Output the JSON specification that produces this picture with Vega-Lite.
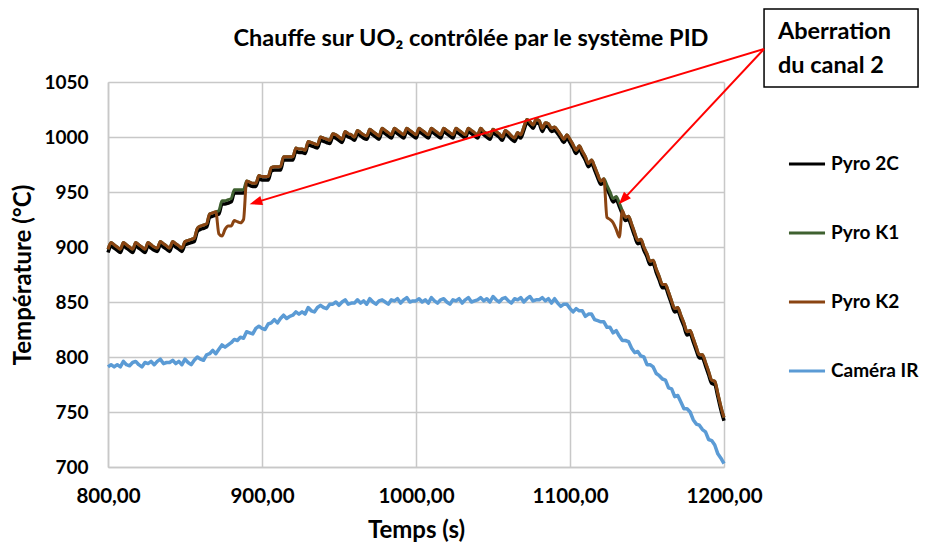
{
"$schema": "https://vega.github.io/schema/vega-lite/v6.json",
"width": 616, "height": 385,
"autosize": {"type": "none"},
"padding": {"left": 108, "top": 82, "right": 201, "bottom": 80},
"background": "white",
"config": {
  "font": "Lato",
  "view": {"stroke": null},
  "axis": {"grid": true, "gridColor": "#c8c8c8", "gridWidth": 1.5, "domainColor": "#c8c8c8", "domainWidth": 1.5, "ticks": false, "labelFontSize": 19, "labelFontWeight": "bold", "labelColor": "#000000", "titleFontSize": 24, "titleFontWeight": "bold", "titleColor": "#000000", "labelFont": "Lato", "titleFont": "Lato"}
},
"title": {"text": "Chauffe sur UO₂ contrôlée par le système PID", "fontSize": 23.5, "fontWeight": "bold", "color": "#000000", "anchor": "middle", "frame": "group", "dx": 55, "offset": -42, "font": "Lato"},
"datasets": {
"temps": [
{"t":800,"p2c":895,"k1":898,"k2":898,"ir":791},
{"t":802,"p2c":901,"k1":904,"k2":904,"ir":793},
{"t":804,"p2c":899,"k1":902,"k2":902,"ir":791},
{"t":806,"p2c":897,"k1":900,"k2":900,"ir":793},
{"t":808,"p2c":895,"k1":898,"k2":898,"ir":791},
{"t":810,"p2c":901,"k1":904,"k2":904,"ir":796},
{"t":812,"p2c":899,"k1":902,"k2":902,"ir":793},
{"t":814,"p2c":897,"k1":900,"k2":900,"ir":792},
{"t":816,"p2c":895,"k1":898,"k2":898,"ir":795},
{"t":818,"p2c":901,"k1":904,"k2":904,"ir":796},
{"t":820,"p2c":899,"k1":902,"k2":902,"ir":793},
{"t":822,"p2c":897,"k1":900,"k2":900,"ir":791},
{"t":824,"p2c":895,"k1":898,"k2":898,"ir":795},
{"t":826,"p2c":901,"k1":904,"k2":904,"ir":794},
{"t":828,"p2c":899,"k1":902,"k2":902,"ir":796},
{"t":830,"p2c":897,"k1":900,"k2":900,"ir":793},
{"t":832,"p2c":896,"k1":899,"k2":899,"ir":796},
{"t":834,"p2c":902,"k1":905,"k2":905,"ir":798},
{"t":836,"p2c":900,"k1":903,"k2":903,"ir":794},
{"t":838,"p2c":898,"k1":901,"k2":901,"ir":795},
{"t":840,"p2c":896,"k1":899,"k2":899,"ir":795},
{"t":842,"p2c":902,"k1":905,"k2":905,"ir":797},
{"t":844,"p2c":900,"k1":903,"k2":903,"ir":794},
{"t":846,"p2c":898,"k1":901,"k2":901,"ir":796},
{"t":848,"p2c":896,"k1":899,"k2":899,"ir":793},
{"t":850,"p2c":902,"k1":905,"k2":905,"ir":798},
{"t":852,"p2c":903,"k1":906,"k2":906,"ir":795},
{"t":854,"p2c":904,"k1":907,"k2":907,"ir":793},
{"t":856,"p2c":905,"k1":908,"k2":908,"ir":797},
{"t":858,"p2c":914,"k1":917,"k2":917,"ir":800},
{"t":860,"p2c":916,"k1":919,"k2":919,"ir":798},
{"t":862,"p2c":917,"k1":920,"k2":920,"ir":797},
{"t":864,"p2c":918,"k1":921,"k2":921,"ir":802},
{"t":866,"p2c":927,"k1":930,"k2":930,"ir":803},
{"t":868,"p2c":928,"k1":931,"k2":931,"ir":806},
{"t":870,"p2c":929,"k1":932,"k2":932,"ir":803},
{"t":872,"p2c":930,"k1":933,"k2":912,"ir":807},
{"t":874,"p2c":939,"k1":942,"k2":910,"ir":811},
{"t":876,"p2c":939,"k1":942,"k2":916,"ir":809},
{"t":878,"p2c":940,"k1":943,"k2":919,"ir":811},
{"t":880,"p2c":941,"k1":944,"k2":919,"ir":813},
{"t":882,"p2c":949,"k1":952,"k2":924,"ir":816},
{"t":884,"p2c":949,"k1":952,"k2":923,"ir":815},
{"t":886,"p2c":949,"k1":952,"k2":922,"ir":818},
{"t":888,"p2c":949,"k1":952,"k2":925,"ir":817},
{"t":890,"p2c":957,"k1":960,"k2":960,"ir":823},
{"t":892,"p2c":956,"k1":959,"k2":959,"ir":822},
{"t":894,"p2c":955,"k1":958,"k2":958,"ir":821},
{"t":896,"p2c":955,"k1":958,"k2":958,"ir":826},
{"t":898,"p2c":962,"k1":965,"k2":965,"ir":828},
{"t":900,"p2c":961,"k1":964,"k2":964,"ir":826},
{"t":902,"p2c":961,"k1":964,"k2":964,"ir":825},
{"t":904,"p2c":961,"k1":964,"k2":964,"ir":830},
{"t":906,"p2c":969,"k1":972,"k2":972,"ir":831},
{"t":908,"p2c":970,"k1":973,"k2":973,"ir":834},
{"t":910,"p2c":970,"k1":973,"k2":973,"ir":831},
{"t":912,"p2c":970,"k1":973,"k2":973,"ir":835},
{"t":914,"p2c":979,"k1":982,"k2":982,"ir":838},
{"t":916,"p2c":979,"k1":982,"k2":982,"ir":835},
{"t":918,"p2c":979,"k1":982,"k2":982,"ir":837},
{"t":920,"p2c":979,"k1":982,"k2":982,"ir":838},
{"t":922,"p2c":987,"k1":990,"k2":990,"ir":841},
{"t":924,"p2c":986,"k1":989,"k2":989,"ir":839},
{"t":926,"p2c":986,"k1":989,"k2":989,"ir":841},
{"t":928,"p2c":985,"k1":988,"k2":988,"ir":839},
{"t":930,"p2c":993,"k1":996,"k2":996,"ir":845},
{"t":932,"p2c":992,"k1":995,"k2":995,"ir":842},
{"t":934,"p2c":991,"k1":994,"k2":994,"ir":841},
{"t":936,"p2c":990,"k1":993,"k2":993,"ir":845},
{"t":938,"p2c":997,"k1":1000,"k2":1000,"ir":847},
{"t":940,"p2c":996,"k1":999,"k2":999,"ir":845},
{"t":942,"p2c":995,"k1":998,"k2":998,"ir":844},
{"t":944,"p2c":994,"k1":997,"k2":997,"ir":848},
{"t":946,"p2c":1000,"k1":1003,"k2":1003,"ir":848},
{"t":948,"p2c":999,"k1":1002,"k2":1002,"ir":850},
{"t":950,"p2c":997,"k1":1000,"k2":1000,"ir":847},
{"t":952,"p2c":995,"k1":998,"k2":998,"ir":850},
{"t":954,"p2c":1002,"k1":1005,"k2":1005,"ir":852},
{"t":956,"p2c":1000,"k1":1003,"k2":1003,"ir":848},
{"t":958,"p2c":999,"k1":1002,"k2":1002,"ir":849},
{"t":960,"p2c":997,"k1":1000,"k2":1000,"ir":849},
{"t":962,"p2c":1003,"k1":1006,"k2":1006,"ir":852},
{"t":964,"p2c":1001,"k1":1004,"k2":1004,"ir":849},
{"t":966,"p2c":999,"k1":1002,"k2":1002,"ir":851},
{"t":968,"p2c":998,"k1":1001,"k2":1001,"ir":848},
{"t":970,"p2c":1004,"k1":1007,"k2":1007,"ir":853},
{"t":972,"p2c":1002,"k1":1005,"k2":1005,"ir":850},
{"t":974,"p2c":1000,"k1":1003,"k2":1003,"ir":848},
{"t":976,"p2c":998,"k1":1001,"k2":1001,"ir":851},
{"t":978,"p2c":1005,"k1":1008,"k2":1008,"ir":852},
{"t":980,"p2c":1003,"k1":1006,"k2":1006,"ir":850},
{"t":982,"p2c":1001,"k1":1004,"k2":1004,"ir":848},
{"t":984,"p2c":999,"k1":1002,"k2":1002,"ir":852},
{"t":986,"p2c":1005,"k1":1008,"k2":1008,"ir":851},
{"t":988,"p2c":1003,"k1":1006,"k2":1006,"ir":853},
{"t":990,"p2c":1001,"k1":1004,"k2":1004,"ir":849},
{"t":992,"p2c":999,"k1":1002,"k2":1002,"ir":852},
{"t":994,"p2c":1005,"k1":1008,"k2":1008,"ir":854},
{"t":996,"p2c":1003,"k1":1006,"k2":1006,"ir":850},
{"t":998,"p2c":1001,"k1":1004,"k2":1004,"ir":851},
{"t":1000,"p2c":999,"k1":1002,"k2":1002,"ir":851},
{"t":1002,"p2c":1005,"k1":1008,"k2":1008,"ir":853},
{"t":1004,"p2c":1003,"k1":1006,"k2":1006,"ir":850},
{"t":1006,"p2c":1001,"k1":1004,"k2":1004,"ir":852},
{"t":1008,"p2c":999,"k1":1002,"k2":1002,"ir":849},
{"t":1010,"p2c":1005,"k1":1008,"k2":1008,"ir":854},
{"t":1012,"p2c":1003,"k1":1006,"k2":1006,"ir":851},
{"t":1014,"p2c":1001,"k1":1004,"k2":1004,"ir":849},
{"t":1016,"p2c":999,"k1":1002,"k2":1002,"ir":852},
{"t":1018,"p2c":1005,"k1":1008,"k2":1008,"ir":853},
{"t":1020,"p2c":1003,"k1":1006,"k2":1006,"ir":850},
{"t":1022,"p2c":1001,"k1":1004,"k2":1004,"ir":848},
{"t":1024,"p2c":999,"k1":1002,"k2":1002,"ir":852},
{"t":1026,"p2c":1005,"k1":1008,"k2":1008,"ir":851},
{"t":1028,"p2c":1003,"k1":1006,"k2":1006,"ir":853},
{"t":1030,"p2c":1001,"k1":1004,"k2":1004,"ir":849},
{"t":1032,"p2c":999,"k1":1002,"k2":1002,"ir":852},
{"t":1034,"p2c":1005,"k1":1008,"k2":1008,"ir":854},
{"t":1036,"p2c":1003,"k1":1006,"k2":1006,"ir":850},
{"t":1038,"p2c":1001,"k1":1004,"k2":1004,"ir":851},
{"t":1040,"p2c":999,"k1":1002,"k2":1002,"ir":852},
{"t":1042,"p2c":1005,"k1":1008,"k2":1008,"ir":854},
{"t":1044,"p2c":1002,"k1":1005,"k2":1005,"ir":851},
{"t":1046,"p2c":1000,"k1":1003,"k2":1003,"ir":853},
{"t":1048,"p2c":998,"k1":1001,"k2":1001,"ir":850},
{"t":1050,"p2c":1004,"k1":1007,"k2":1007,"ir":855},
{"t":1052,"p2c":1002,"k1":1005,"k2":1005,"ir":852},
{"t":1054,"p2c":1000,"k1":1003,"k2":1003,"ir":850},
{"t":1056,"p2c":997,"k1":1000,"k2":1000,"ir":853},
{"t":1058,"p2c":1003,"k1":1006,"k2":1006,"ir":854},
{"t":1060,"p2c":1001,"k1":1004,"k2":1004,"ir":851},
{"t":1062,"p2c":998,"k1":1001,"k2":1001,"ir":849},
{"t":1064,"p2c":996,"k1":999,"k2":999,"ir":853},
{"t":1066,"p2c":1001,"k1":1004,"k2":1004,"ir":852},
{"t":1068,"p2c":999,"k1":1002,"k2":1002,"ir":854},
{"t":1070,"p2c":1006,"k1":1009,"k2":1009,"ir":850},
{"t":1072,"p2c":1013,"k1":1016,"k2":1016,"ir":853},
{"t":1074,"p2c":1011,"k1":1014,"k2":1014,"ir":855},
{"t":1076,"p2c":1008,"k1":1011,"k2":1011,"ir":851},
{"t":1078,"p2c":1013,"k1":1016,"k2":1016,"ir":852},
{"t":1080,"p2c":1012,"k1":1015,"k2":1015,"ir":852},
{"t":1082,"p2c":1005,"k1":1008,"k2":1008,"ir":854},
{"t":1084,"p2c":1010,"k1":1013,"k2":1013,"ir":851},
{"t":1086,"p2c":1009,"k1":1012,"k2":1012,"ir":853},
{"t":1088,"p2c":1005,"k1":1008,"k2":1008,"ir":849},
{"t":1090,"p2c":1006,"k1":1009,"k2":1009,"ir":853},
{"t":1092,"p2c":1003,"k1":1006,"k2":1006,"ir":849},
{"t":1094,"p2c":999,"k1":1002,"k2":1002,"ir":846},
{"t":1096,"p2c":995,"k1":998,"k2":998,"ir":848},
{"t":1098,"p2c":999,"k1":1002,"k2":1002,"ir":848},
{"t":1100,"p2c":995,"k1":998,"k2":998,"ir":844},
{"t":1102,"p2c":990,"k1":993,"k2":993,"ir":841},
{"t":1104,"p2c":985,"k1":988,"k2":988,"ir":844},
{"t":1106,"p2c":989,"k1":992,"k2":992,"ir":842},
{"t":1108,"p2c":984,"k1":987,"k2":987,"ir":842},
{"t":1110,"p2c":979,"k1":982,"k2":982,"ir":837},
{"t":1112,"p2c":973,"k1":976,"k2":976,"ir":839},
{"t":1114,"p2c":976,"k1":979,"k2":979,"ir":839},
{"t":1116,"p2c":970,"k1":973,"k2":973,"ir":834},
{"t":1118,"p2c":963,"k1":966,"k2":966,"ir":833},
{"t":1120,"p2c":957,"k1":960,"k2":960,"ir":832},
{"t":1122,"p2c":959,"k1":962,"k2":962,"ir":832},
{"t":1124,"p2c":953,"k1":956,"k2":927,"ir":827},
{"t":1126,"p2c":947,"k1":950,"k2":925,"ir":827},
{"t":1128,"p2c":941,"k1":944,"k2":922,"ir":822},
{"t":1130,"p2c":943,"k1":946,"k2":916,"ir":824},
{"t":1132,"p2c":937,"k1":940,"k2":909,"ir":819},
{"t":1134,"p2c":930,"k1":933,"k2":933,"ir":815},
{"t":1136,"p2c":924,"k1":927,"k2":927,"ir":815},
{"t":1138,"p2c":925,"k1":928,"k2":928,"ir":814},
{"t":1140,"p2c":918,"k1":921,"k2":921,"ir":808},
{"t":1142,"p2c":910,"k1":913,"k2":913,"ir":804},
{"t":1144,"p2c":903,"k1":906,"k2":906,"ir":805},
{"t":1146,"p2c":904,"k1":907,"k2":907,"ir":801},
{"t":1148,"p2c":897,"k1":900,"k2":900,"ir":800},
{"t":1150,"p2c":891,"k1":894,"k2":894,"ir":793},
{"t":1152,"p2c":884,"k1":887,"k2":887,"ir":793},
{"t":1154,"p2c":885,"k1":888,"k2":888,"ir":791},
{"t":1156,"p2c":877,"k1":880,"k2":880,"ir":785},
{"t":1158,"p2c":870,"k1":873,"k2":873,"ir":783},
{"t":1160,"p2c":863,"k1":866,"k2":866,"ir":780},
{"t":1162,"p2c":863,"k1":866,"k2":866,"ir":779},
{"t":1164,"p2c":856,"k1":859,"k2":859,"ir":772},
{"t":1166,"p2c":848,"k1":851,"k2":851,"ir":771},
{"t":1168,"p2c":841,"k1":844,"k2":844,"ir":764},
{"t":1170,"p2c":842,"k1":845,"k2":845,"ir":765},
{"t":1172,"p2c":835,"k1":838,"k2":838,"ir":759},
{"t":1174,"p2c":828,"k1":831,"k2":831,"ir":753},
{"t":1176,"p2c":820,"k1":823,"k2":823,"ir":753},
{"t":1178,"p2c":821,"k1":824,"k2":824,"ir":750},
{"t":1180,"p2c":814,"k1":817,"k2":817,"ir":743},
{"t":1182,"p2c":806,"k1":809,"k2":809,"ir":739},
{"t":1184,"p2c":799,"k1":802,"k2":802,"ir":738},
{"t":1186,"p2c":799,"k1":802,"k2":802,"ir":734},
{"t":1188,"p2c":792,"k1":795,"k2":795,"ir":732},
{"t":1190,"p2c":784,"k1":787,"k2":787,"ir":725},
{"t":1192,"p2c":776,"k1":779,"k2":779,"ir":724},
{"t":1194,"p2c":775,"k1":778,"k2":778,"ir":720},
{"t":1196,"p2c":764,"k1":767,"k2":767,"ir":712},
{"t":1198,"p2c":752,"k1":755,"k2":755,"ir":708},
{"t":1200,"p2c":742,"k1":745,"k2":745,"ir":703}
],
"box": [{"x": 1226, "x2": 1326, "y": 1116.4, "y2": 1045.5}],
"notes": [{"x": 1235, "y": 1089, "text": "Aberration"}, {"x": 1235, "y": 1058, "text": "du canal 2"}],
"arrows": [{"x": 1226, "y": 1080, "x2": 895.9, "y2": 940.6}, {"x": 1226, "y": 1080, "x2": 1134.5, "y2": 943.1}],
"head1": [{"x": 895.9, "y": 940.6}],
"head2": [{"x": 1134.5, "y": 943.1}]
},
"layer": [
{
  "data": {"name": "temps"},
  "mark": {"type": "line", "strokeWidth": 3.5, "strokeJoin": "round", "interpolate": "monotone"},
  "encoding": {
    "x": {"field": "t", "type": "quantitative", "title": "Temps (s)", "scale": {"domain": [800, 1200], "nice": false, "zero": false},
      "axis": {"values": [800, 900, 1000, 1100, 1200], "labelExpr": "replace(format(datum.value, '.2f'), '.', ',')", "labelFontSize": 20.5, "labelFlush": false, "labelPadding": 19, "titlePadding": 12}},
    "y": {"field": "p2c", "type": "quantitative", "title": "Température (°C)", "scale": {"domain": [700, 1050], "nice": false, "zero": false},
      "axis": {"values": [700, 750, 800, 850, 900, 950, 1000, 1050], "format": "d", "labelPadding": 20, "titlePadding": 8}},
    "color": {"datum": "Pyro 2C", "type": "nominal",
      "scale": {"domain": ["Pyro 2C", "Pyro K1", "Pyro K2", "Caméra IR"], "range": ["#000000", "#3f6130", "#8a4412", "#5b9bd5"]},
      "legend": {"orient": "none", "legendX": 679, "legendY": 62, "title": null, "symbolType": "stroke", "symbolStrokeWidth": 3, "symbolSize": 1300, "labelFontSize": 19, "labelFontWeight": "bold", "labelColor": "#000000", "labelFont": "Lato", "rowPadding": 39, "labelOffset": 4}}
  }
},
{
  "data": {"name": "temps"},
  "mark": {"type": "line", "strokeWidth": 3, "strokeJoin": "round", "interpolate": "monotone"},
  "encoding": {
    "x": {"field": "t", "type": "quantitative", "title": "Temps (s)"},
    "y": {"field": "k1", "type": "quantitative", "title": "Température (°C)"},
    "color": {"datum": "Pyro K1", "type": "nominal"}
  }
},
{
  "data": {"name": "temps"},
  "mark": {"type": "line", "strokeWidth": 3, "strokeJoin": "round", "interpolate": "monotone"},
  "encoding": {
    "x": {"field": "t", "type": "quantitative", "title": "Temps (s)"},
    "y": {"field": "k2", "type": "quantitative", "title": "Température (°C)"},
    "color": {"datum": "Pyro K2", "type": "nominal"}
  }
},
{
  "data": {"name": "temps"},
  "mark": {"type": "line", "strokeWidth": 3.5, "strokeJoin": "round"},
  "encoding": {
    "x": {"field": "t", "type": "quantitative", "title": "Temps (s)"},
    "y": {"field": "ir", "type": "quantitative", "title": "Température (°C)"},
    "color": {"datum": "Caméra IR", "type": "nominal"}
  }
},
{
  "data": {"name": "box"},
  "mark": {"type": "rect", "fill": "#ffffff", "stroke": "#000000", "strokeWidth": 1.5},
  "encoding": {
    "x": {"field": "x", "type": "quantitative", "title": "Temps (s)"},
    "x2": {"field": "x2"},
    "y": {"field": "y", "type": "quantitative", "title": "Température (°C)"},
    "y2": {"field": "y2"}
  }
},
{
  "data": {"name": "notes"},
  "mark": {"type": "text", "align": "left", "baseline": "alphabetic", "fontSize": 23.5, "fontWeight": "bold", "font": "Lato", "color": "#000000"},
  "encoding": {
    "x": {"field": "x", "type": "quantitative", "title": "Temps (s)"},
    "y": {"field": "y", "type": "quantitative", "title": "Température (°C)"},
    "text": {"field": "text"}
  }
},
{
  "data": {"name": "arrows"},
  "mark": {"type": "rule", "color": "#ff0000", "strokeWidth": 2},
  "encoding": {
    "x": {"field": "x", "type": "quantitative", "title": "Temps (s)"},
    "y": {"field": "y", "type": "quantitative", "title": "Température (°C)"},
    "x2": {"field": "x2"},
    "y2": {"field": "y2"}
  }
},
{
  "data": {"name": "head1"},
  "mark": {"type": "point", "shape": "M0,-1L0.75,1L-0.75,1Z", "filled": true, "color": "#ff0000", "opacity": 1, "size": 160, "angle": 253},
  "encoding": {
    "x": {"field": "x", "type": "quantitative", "title": "Temps (s)"},
    "y": {"field": "y", "type": "quantitative", "title": "Température (°C)"}
  }
},
{
  "data": {"name": "head2"},
  "mark": {"type": "point", "shape": "M0,-1L0.75,1L-0.75,1Z", "filled": true, "color": "#ff0000", "opacity": 1, "size": 160, "angle": 223},
  "encoding": {
    "x": {"field": "x", "type": "quantitative", "title": "Temps (s)"},
    "y": {"field": "y", "type": "quantitative", "title": "Température (°C)"}
  }
}
]
}
